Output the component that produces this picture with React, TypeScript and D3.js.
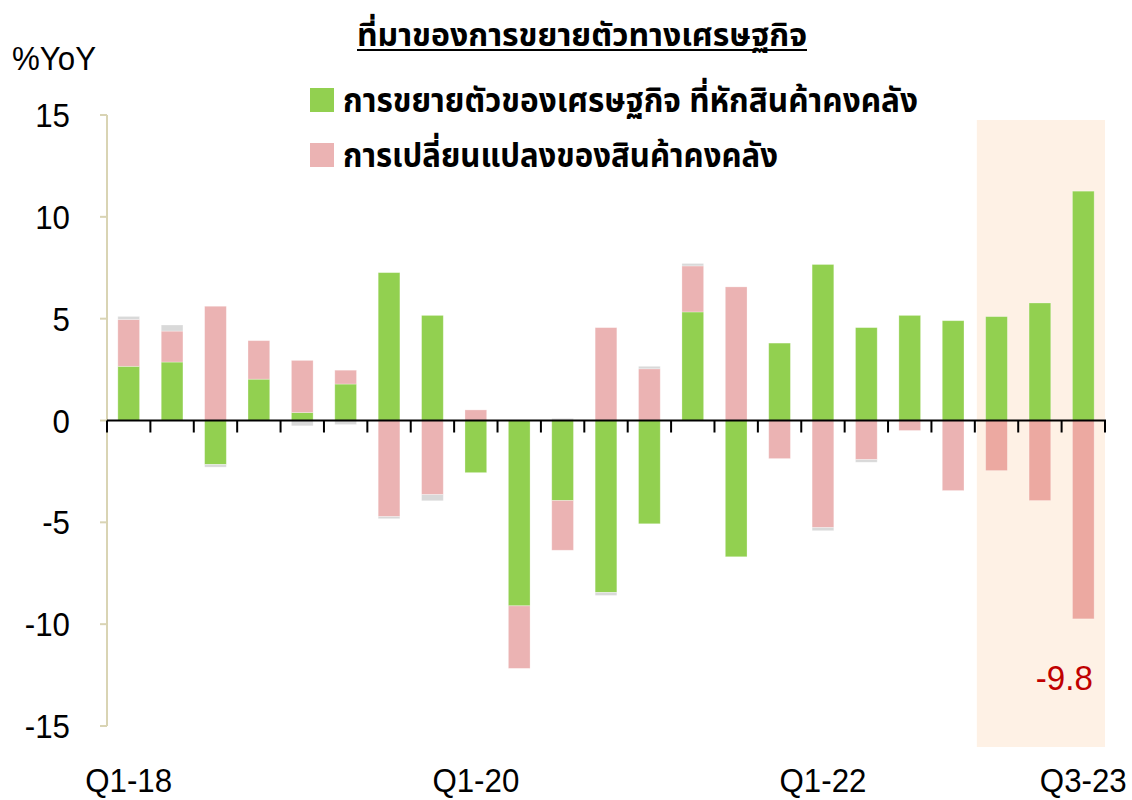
import React from "react";
import * as d3 from "d3";

// quarters Q1-18 .. Q3-23
const quarters = [
  "Q1-18", "Q2-18", "Q3-18", "Q4-18",
  "Q1-19", "Q2-19", "Q3-19", "Q4-19",
  "Q1-20", "Q2-20", "Q3-20", "Q4-20",
  "Q1-21", "Q2-21", "Q3-21", "Q4-21",
  "Q1-22", "Q2-22", "Q3-22", "Q4-22",
  "Q1-23", "Q2-23", "Q3-23",
];
const tickLabels = ["Q1-18", "Q1-20", "Q1-22", "Q3-23"];

// GDP growth excl. inventories
const gdpExInv = [
  2.66, 2.87, -2.16, 2.03, 0.39, 1.79, 7.26, 5.16, -2.56, -9.1, -3.93, -8.44,
  -5.07, 5.33, -6.69, 3.8, 7.66, 4.56, 5.16, 4.9, 5.1, 5.77, 11.26,
];
// change in inventories
const invChange = [
  2.3, 1.52, 5.61, 1.89, 2.56, 0.68, -4.72, -3.64, 0.52, -3.07, -2.44, 4.56,
  2.54, 2.26, 6.56, -1.87, -5.26, -1.92, -0.49, -3.44, -2.46, -3.93, -9.74,
];
// statistical discrepancy (grey)
const discrepancy = [
  0.15, 0.3, -0.13, 0.0, -0.26, -0.2, -0.1, -0.3, 0.0, 0.0, 0.1, -0.15,
  0.12, 0.12, 0.0, 0.0, -0.15, -0.13, 0.0, 0.0, 0.0, 0.0, 0.0,
];
const yTicks = [15, 10, 5, 0, -5, -10, -15];
const lastLabel = "-9.8";

const W = 1132;
const H = 800;

// narrow-looking text: regular sans squeezed horizontally
function Narrow(props: any) {
  const { x, y, anchor, size, fill, children } = props;
  return (
    <text
      transform={`translate(${x},${y}) scale(0.92,1)`}
      textAnchor={anchor || "start"}
      fontFamily="'Liberation Sans', Arial, sans-serif"
      fontSize={size || 34}
      fill={fill || "#000"}
    >
      {children}
    </text>
  );
}

export default function App() {
  const rows = quarters.map((q, i) => ({
    q,
    gdp: gdpExInv[i],
    inv: invChange[i],
    disc: discrepancy[i],
  }));
  const keys = ["gdp", "inv", "disc"];
  const series = d3
    .stack<any>()
    .keys(keys)
    .offset(d3.stackOffsetDiverging)(rows);

  const x = d3
    .scaleBand()
    .domain(quarters)
    .range([107, 1105])
    .paddingInner(0.5)
    .paddingOuter(0.25);
  const y = d3.scaleLinear().domain([-15, 15]).range([726, 115]);

  const colorFor = (key: string, i: number) => {
    if (key === "gdp") return "#92D050";
    if (key === "inv") return i >= 20 ? "#ECA9A1" : "#EBB3B3";
    return "#D9D9D9";
  };

  const step = x.step();
  const boundaries = d3.range(quarters.length + 1).map((i) => 107 + i * step);
  const last = quarters.length - 1;
  const thai = "'Noto Sans Thai', 'Noto Sans', 'DejaVu Sans', sans-serif";
  const hlX = boundaries[20] + 2;

  return (
    <svg width={W} height={H} style={{ position: "absolute", left: 0, top: 0 }}>
      <rect width={W} height={H} fill="#fff" />
      {/* highlighted 2023 period */}
      <rect x={hlX} y={120} width={1105 - hlX} height={627} fill="#FEF1E5" />
      {/* bars */}
      {series.map((s) =>
        s.map((d, i) => {
          const v0 = d[0];
          const v1 = d[1];
          if (Math.abs(v1 - v0) < 1e-9) return null;
          return (
            <rect
              key={s.key + i}
              x={x(quarters[i])}
              width={x.bandwidth()}
              y={y(Math.max(v0, v1))}
              height={Math.abs(y(v0) - y(v1))}
              fill={colorFor(s.key, i)}
              stroke="#fff"
              strokeOpacity={0.35}
              strokeWidth={0.8}
            />
          );
        })
      )}
      {/* y axis */}
      <line x1={107} x2={107} y1={y(15)} y2={y(-15)} stroke="#D9D4B4" strokeWidth={2} />
      {yTicks.map((t) => (
        <g key={t}>
          <line x1={100} x2={107} y1={y(t)} y2={y(t)} stroke="#D9D4B4" strokeWidth={2} />
          <Narrow x={70} y={y(t) + 12} anchor="end">
            {t}
          </Narrow>
        </g>
      ))}
      {/* zero axis */}
      <line x1={107} x2={1106} y1={y(0)} y2={y(0)} stroke="#000" strokeWidth={2} />
      {boundaries.map((bx, i) => (
        <line key={i} x1={bx} x2={bx} y1={y(0)} y2={y(0) + 12} stroke="#000" strokeWidth={2} />
      ))}
      {/* x labels */}
      {tickLabels.map((t) => (
        <Narrow key={t} x={x(t)! + x.bandwidth() / 2} y={792} anchor="middle">
          {t}
        </Narrow>
      ))}
      {/* data label */}
      <Narrow
        x={x(quarters[last])! + x.bandwidth() / 2 - 19}
        y={690}
        anchor="middle"
        size={36}
        fill="#C00000"
      >
        {lastLabel}
      </Narrow>
      {/* unit */}
      <Narrow x={12} y={70}>
        %YoY
      </Narrow>
      {/* title */}
      <text
        x={582}
        y={46}
        textAnchor="middle"
        fontFamily={thai}
        fontSize={31}
        fontWeight="bold"
        textLength={450}
        lengthAdjust="spacingAndGlyphs"
        fill="#000"
      >
        ที่มาของการขยายตัวทางเศรษฐกิจ
      </text>
      <line x1={357} x2={807} y1={50} y2={50} stroke="#000" strokeWidth={2} />
      {/* legend */}
      <rect x={310} y={88} width={24} height={24} fill="#92D050" />
      <text
        x={343}
        y={112}
        fontFamily={thai}
        fontSize={33}
        fontWeight="bold"
        textLength={575}
        lengthAdjust="spacingAndGlyphs"
        fill="#000"
      >
        การขยายตัวของเศรษฐกิจ ที่หักสินค้าคงคลัง
      </text>
      <rect x={310} y={143} width={24} height={24} fill="#EBB3B3" />
      <text
        x={343}
        y={167}
        fontFamily={thai}
        fontSize={33}
        fontWeight="bold"
        textLength={435}
        lengthAdjust="spacingAndGlyphs"
        fill="#000"
      >
        การเปลี่ยนแปลงของสินค้าคงคลัง
      </text>
    </svg>
  );
}
